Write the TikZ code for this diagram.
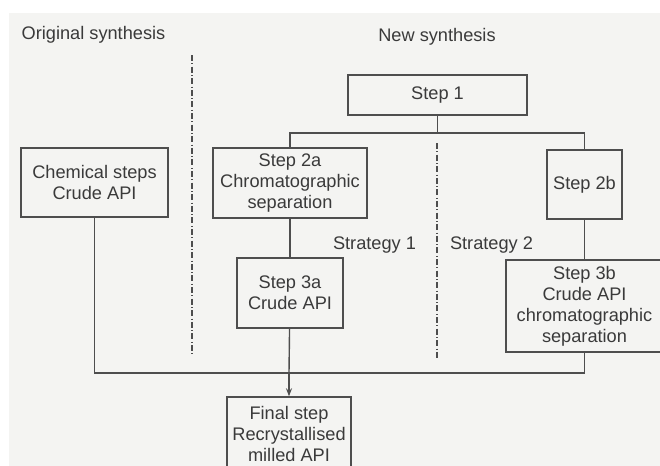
\documentclass[tikz,border=0pt]{standalone}
\usepackage{fontspec}
\setmainfont{Liberation Sans}
\usetikzlibrary{arrows.meta}

\definecolor{inkgray}{HTML}{3A3A3A}
\definecolor{linegray}{HTML}{4E4E4E}
\definecolor{papergray}{HTML}{F4F4F2}

\begin{document}
\begin{tikzpicture}[x=0.5pt,y=-0.5pt,
  every node/.style={text=inkgray, font=\fontsize{9.1}{10.5}\selectfont},
  box/.style={draw=linegray, line width=0.7pt, align=center, inner sep=0pt},
  link/.style={draw=linegray, line width=0.7pt},
  divider/.style={draw=linegray, line width=0.7pt,
    dash pattern=on 3pt off 1.2pt on 0.4pt off 1.2pt}]

% Page and background
\useasboundingbox (0,0) rectangle (660,466);
\clip (0,0) rectangle (660,466);
\fill[white] (0,0) rectangle (660,466);
\fill[papergray] (9,13) rectangle (660,466);

% Headings
\node (orig) at (93.5,35) {Original synthesis};
\node (new) at (437,37) {New synthesis};

% Boxes
\node[box, minimum width=89.5pt, minimum height=20pt] (step1) at (437.5,95) {Step 1};
\node[box, minimum width=73.5pt, minimum height=34.5pt] (chem) at (94.5,182.5) {Chemical steps\\Crude API};
\node[box, minimum width=77pt, minimum height=35pt] (s2a) at (290,183) {Step 2a\\Chromatographic\\separation};
\node[box, minimum width=37.5pt, minimum height=34.5pt] (s2b) at (584.5,184.5) {Step 2b};
\node[box, minimum width=53pt, minimum height=35pt] (s3a) at (290,293) {Step 3a\\Crude API};
\node[box, minimum width=78.5pt, minimum height=46pt] (s3b) at (584.5,306) {Step 3b\\Crude API\\chromatographic\\separation};
\node[box, minimum width=62pt, minimum height=37pt] (final) at (289,434) {Final step\\Recrystallised\\milled API};

% Strategy labels
\node (strat1) at (374.5,245) {Strategy 1};
\node (strat2) at (491.5,245) {Strategy 2};

% Dividers
\coordinate (d1top) at (192,55);
\coordinate (d1bot) at (192,356);
\coordinate (d2top) at (437,143);
\coordinate (d2bot) at (437,360);
\draw[divider] (d1top) -- (d1bot);
\draw[divider] (d2top) -- (d2bot);

% Connectors
\coordinate (split) at (437.5,133);
\coordinate (merge) at (289,373);
\draw[link] (step1) -- (split);
\draw[link] (s2a.north) |- (split) -| (s2b.north);
\draw[link] (s2a) -- (s3a);
\draw[link] (s2b) -- (s3b);
\draw[link] (chem.south) |- (merge) -| (s3b.south);
\draw[link] (s3a) -- (merge);
\draw[link, -{Stealth[length=4pt,width=3pt]}] (merge) -- (final.north);

\end{tikzpicture}
\end{document}
